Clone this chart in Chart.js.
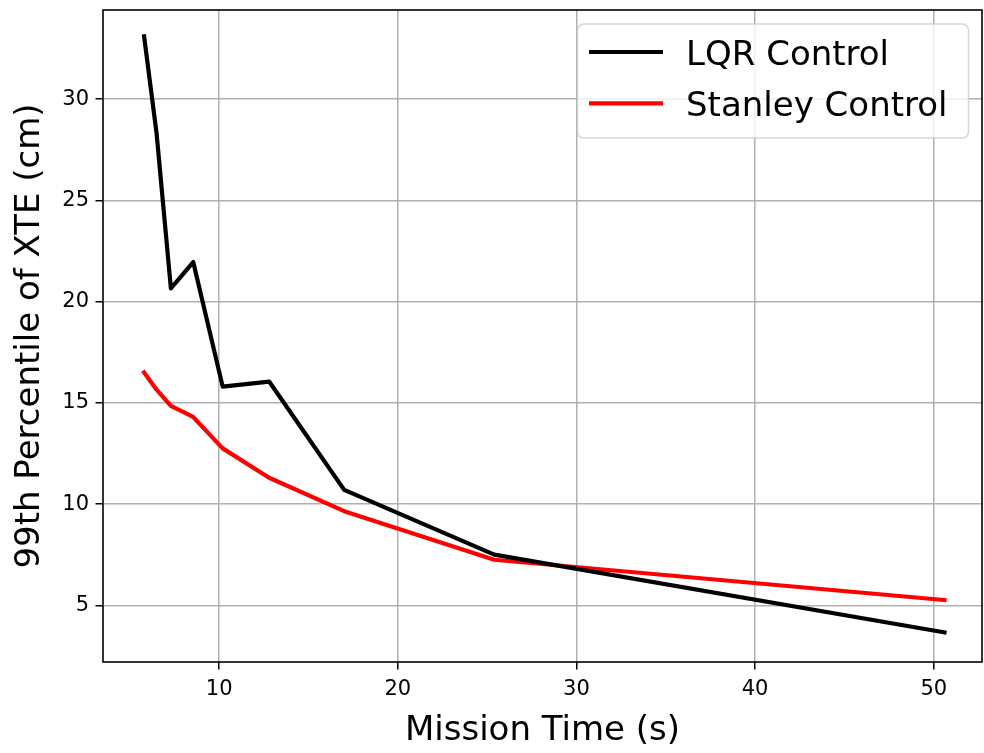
<!DOCTYPE html>
<html>
<head>
<meta charset="utf-8">
<title>99th Percentile of XTE vs Mission Time</title>
<script src="https://cdn.jsdelivr.net/npm/chart.js@4/dist/chart.umd.min.js"></script>
<style>
  html, body { margin: 0; padding: 0; background: #ffffff; }
  #wrap { width: 984px; height: 753px; }
</style>
</head>
<body>
<div id="wrap"><canvas id="chart" width="984" height="753"></canvas></div>
<script>
// Mission time (s) for each run
const missionTime = [5.8, 6.5, 7.3, 8.55, 10.2, 12.8, 17.0, 25.4, 50.6];
// 99th percentile cross-track error (cm)
const lqrXte = [33.1, 28.3, 20.65, 21.95, 15.8, 16.05, 10.7, 7.5, 3.66];
const stanleyXte = [16.5, 15.65, 14.85, 14.3, 12.75, 11.3, 9.65, 7.25, 5.26];
// Axis ticks
const xTicks = [10, 20, 30, 40, 50];
const yTicks = [5, 10, 15, 20, 25, 30];
const seriesLabels = ['LQR Control', 'Stanley Control'];

const FONT = "'DejaVu Sans', 'Liberation Sans', sans-serif";

const toPoints = (xs, ys) => xs.map((x, i) => ({ x: x, y: ys[i] }));

// Frame around the plot area (all four spines)
const framePlugin = {
  id: 'frame',
  afterDatasetsDraw(chart) {
    const { ctx, chartArea: a } = chart;
    ctx.save();
    ctx.strokeStyle = '#000000';
    ctx.lineWidth = 1.6;
    ctx.strokeRect(a.left, a.top, a.right - a.left, a.bottom - a.top);
    ctx.restore();
  }
};

// Legend drawn inside the plot area, upper right
const innerLegend = {
  id: 'innerLegend',
  afterDraw(chart) {
    const { ctx } = chart;
    const x0 = 577.5, y0 = 24, w = 391, h = 114, r = 6;
    ctx.save();
    ctx.beginPath();
    ctx.moveTo(x0 + r, y0);
    ctx.arcTo(x0 + w, y0, x0 + w, y0 + h, r);
    ctx.arcTo(x0 + w, y0 + h, x0, y0 + h, r);
    ctx.arcTo(x0, y0 + h, x0, y0, r);
    ctx.arcTo(x0, y0, x0 + w, y0, r);
    ctx.closePath();
    ctx.fillStyle = 'rgba(255,255,255,0.8)';
    ctx.fill();
    ctx.strokeStyle = 'rgba(204,204,204,0.8)';
    ctx.lineWidth = 1.5;
    ctx.stroke();

    const rowY = [52, 103.3];
    const baseY = [65, 116];
    chart.data.datasets.forEach((ds, i) => {
      ctx.beginPath();
      ctx.strokeStyle = ds.borderColor;
      ctx.lineWidth = ds.borderWidth;
      ctx.lineCap = 'butt';
      ctx.moveTo(589, rowY[i]);
      ctx.lineTo(663, rowY[i]);
      ctx.stroke();
      ctx.fillStyle = '#000000';
      ctx.font = '34px ' + FONT;
      ctx.textAlign = 'left';
      ctx.textBaseline = 'alphabetic';
      ctx.fillText(ds.label, 686, baseY[i]);
    });
    ctx.restore();
  }
};

new Chart(document.getElementById('chart'), {
  type: 'line',
  data: {
    datasets: [
      {
        label: seriesLabels[0],
        data: toPoints(missionTime, lqrXte),
        borderColor: '#000000',
        backgroundColor: '#000000',
        borderWidth: 4.2,
        borderCapStyle: 'square',
        borderJoinStyle: 'round',
        pointRadius: 0,
        tension: 0,
        fill: false
      },
      {
        label: seriesLabels[1],
        data: toPoints(missionTime, stanleyXte),
        borderColor: '#ff0000',
        backgroundColor: '#ff0000',
        borderWidth: 4.2,
        borderCapStyle: 'square',
        borderJoinStyle: 'round',
        pointRadius: 0,
        tension: 0,
        fill: false
      }
    ]
  },
  options: {
    responsive: false,
    animation: false,
    devicePixelRatio: 1,
    layout: { padding: { top: 10, right: 2, left: 0, bottom: 0 } },
    plugins: {
      legend: { display: false },
      tooltip: { enabled: false }
    },
    scales: {
      x: {
        type: 'linear',
        min: 3.5,
        max: 52.7,
        afterBuildTicks(scale) { scale.ticks = xTicks.map(v => ({ value: v })); },
        afterFit(scale) {
          scale.height = 91;
          scale.paddingLeft = 0;
          scale.paddingRight = 0;
        },
        grid: {
          color: '#b0b0b0',
          lineWidth: 1.5,
          drawTicks: true,
          tickLength: 7.5,
          tickColor: '#000000',
          tickWidth: 1.5
        },
        border: { display: false },
        ticks: {
          color: '#000000',
          padding: 7,
          maxRotation: 0,
          autoSkip: false,
          font: { family: FONT, size: 21 }
        },
        title: {
          display: true,
          text: 'Mission Time (s)',
          color: '#000000',
          font: { family: FONT, size: 34, lineHeight: 1 },
          padding: { top: 0, bottom: 5 }
        }
      },
      y: {
        type: 'linear',
        min: 2.2,
        max: 34.4,
        afterBuildTicks(scale) { scale.ticks = yTicks.map(v => ({ value: v })); },
        afterFit(scale) {
          scale.width = 103;
          scale.paddingTop = 0;
          scale.paddingBottom = 0;
        },
        grid: {
          color: '#b0b0b0',
          lineWidth: 1.5,
          drawTicks: true,
          tickLength: 7.5,
          tickColor: '#000000',
          tickWidth: 1.5
        },
        border: { display: false },
        ticks: {
          color: '#000000',
          padding: 6.5,
          autoSkip: false,
          font: { family: FONT, size: 21 }
        },
        title: {
          display: true,
          text: '99th Percentile of XTE (cm)',
          color: '#000000',
          font: { family: FONT, size: 34, lineHeight: 1 },
          padding: { top: 13, bottom: 0 }
        }
      }
    }
  },
  plugins: [framePlugin, innerLegend]
});
</script>
</body>
</html>
